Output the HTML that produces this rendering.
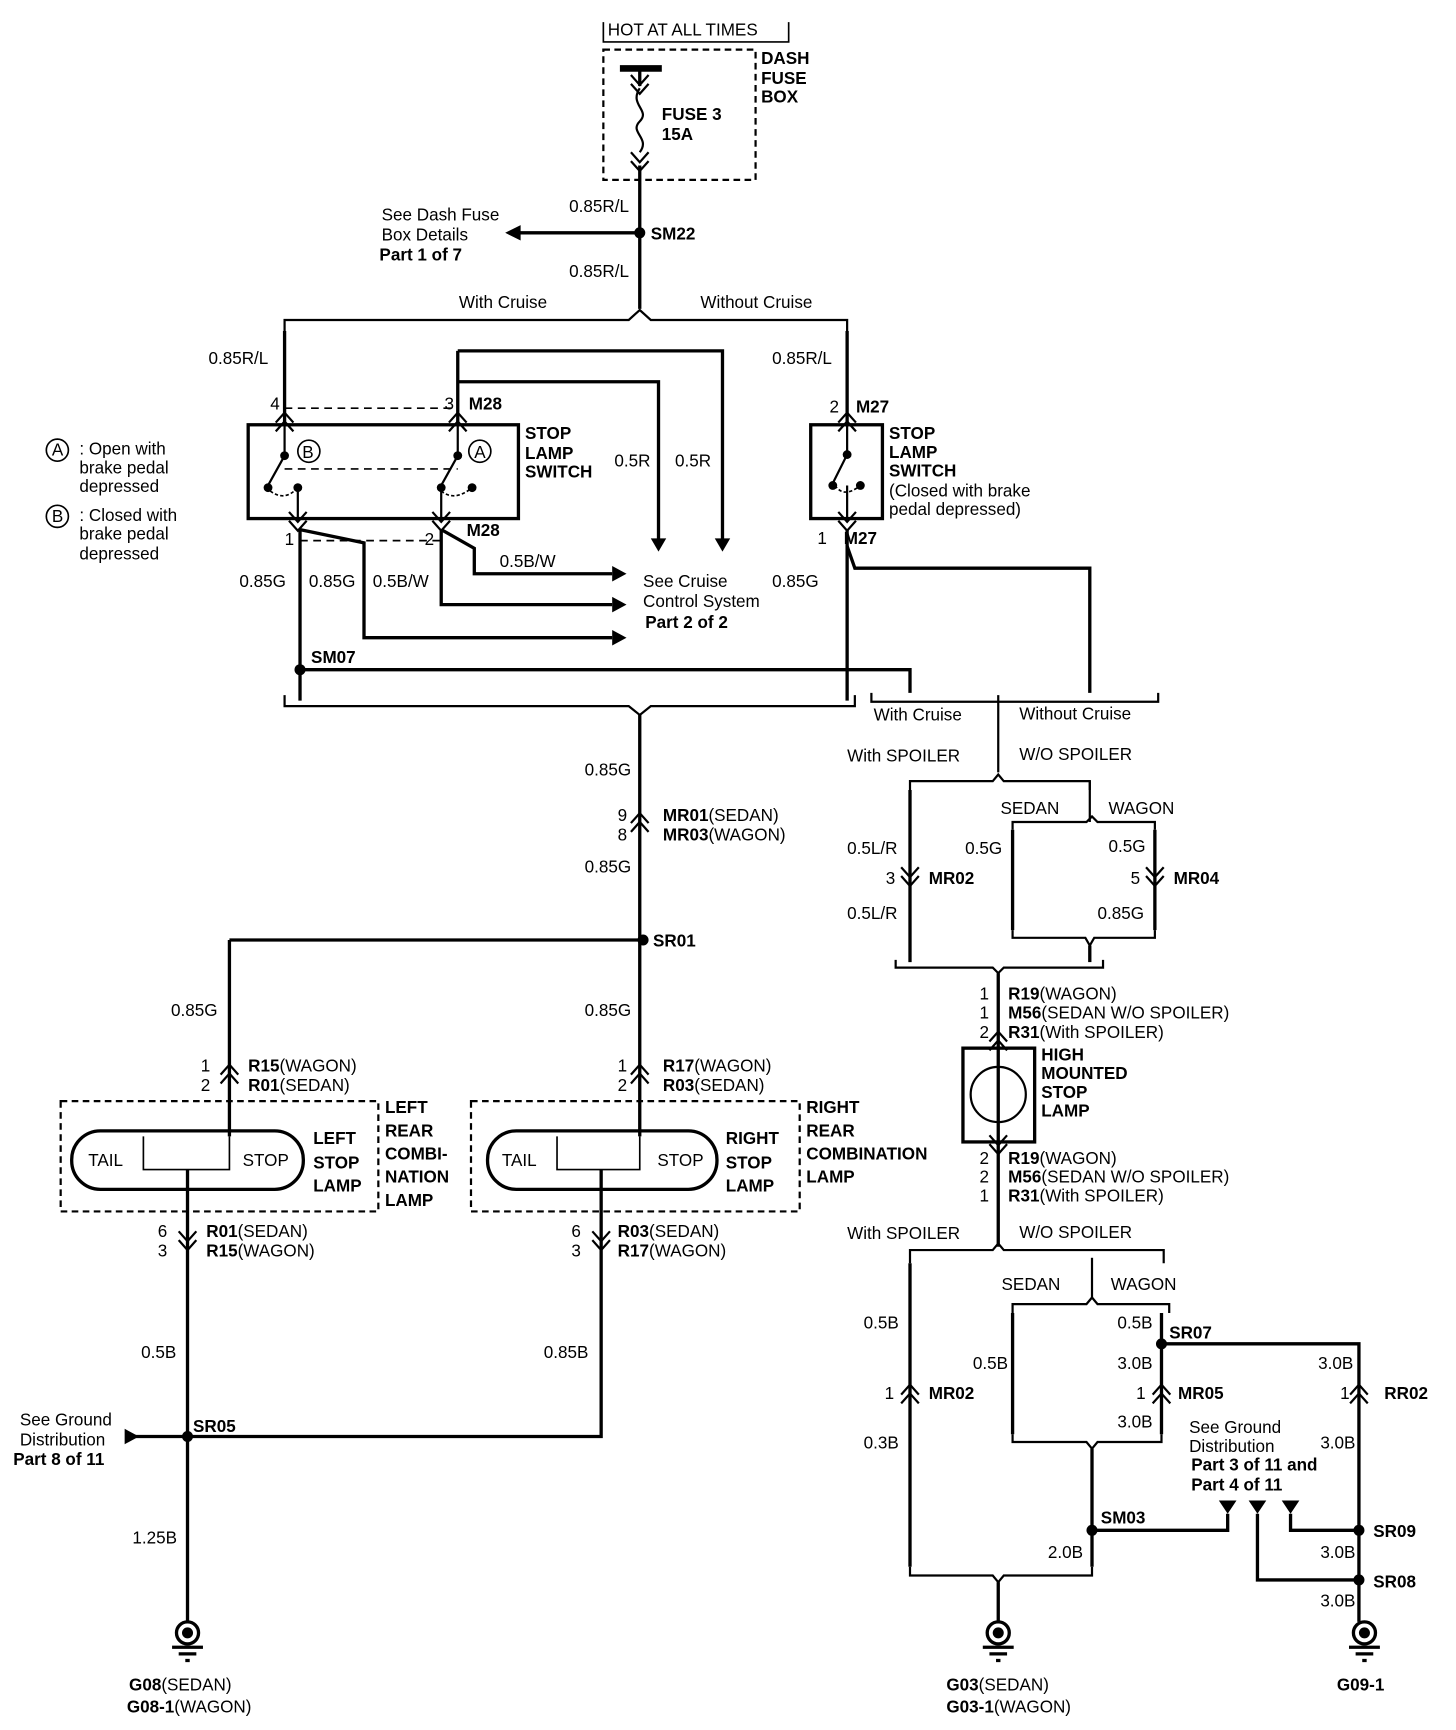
<!DOCTYPE html>
<html><head><meta charset="utf-8"><style>
html,body{margin:0;padding:0;background:#fff;}
svg{display:block;}
text{font-family:"Liberation Sans",sans-serif;font-size:15.5px;fill:#000;}
.b{font-weight:bold;}
</style></head><body>
<svg width="1456" height="1730" viewBox="0 0 1320 1568" preserveAspectRatio="none" xmlns="http://www.w3.org/2000/svg">
<defs>
<g id="cu"><path d="M-8,6 L0,-3 L8,6 M-8,14 L0,5 L8,14" fill="none" stroke="#000" stroke-width="2"/></g>
<g id="cd"><path d="M-8,-6 L0,3 L8,-6 M-8,-14 L0,-5 L8,-14" fill="none" stroke="#000" stroke-width="2"/></g>
<g id="gnd"><circle r="10" fill="none" stroke="#000" stroke-width="3"/><circle r="5" fill="#000"/><path d="M-14,13 H14 M-8,19 H8 M-2,25 H2" stroke="#000" stroke-width="3"/></g>
</defs>
<g fill="none" stroke="#000" stroke-width="3">
<path d="M547,20 V38 H715 V20" stroke-width="1.5"/>
<rect x="547" y="45" width="138" height="118" stroke-dasharray="6,4" stroke-width="2"/>
<path d="M562,62 H600" stroke-width="6"/>
<path d="M580,62 V78"/>
<path d="M580,80 C570,95 590,100 580,110 C570,120 590,125 580,138" stroke-width="2"/>
<path d="M580,150 V280"/>
<path d="M462,211 H580"/>
<path d="M258,300 V290 H570 L580,281 L590,290 H768 V300" stroke-width="2"/>
<path d="M258,300 V385"/>
<path d="M415,318 H655 V490"/>
<path d="M415,318 V385"/>
<path d="M415,346 H597 V490"/>
<path d="M768,300 V385"/>
<rect x="225" y="385" width="245" height="85"/>
<rect x="735" y="385" width="65" height="85"/>
<path d="M258,413 L243,440 M415,413 L400,440 M768,412 L755,438" stroke-width="2"/>
<path d="M258,385 V413 M415,385 V413 M768,385 V412 M270,440 V470 M400,440 V470 M768,440 V470" stroke-width="2"/>
<path d="M245,445 Q258,455 270,442 M400,445 Q412,455 428,442 M757,440 Q765,452 780,440" stroke-width="1.5" stroke-dasharray="3,2"/>
<path d="M258,370 H415 M258,425 H415 M272,490 H400" stroke-width="1.5" stroke-dasharray="7,5"/>
<path d="M272,480 V635"/>
<path d="M272,480 L330,492 V578 H555"/>
<path d="M400,480 V548 H555"/>
<path d="M400,480 L430,497 V520 H555"/>
<path d="M768,480 V635"/>
<path d="M768,495 L775,515 H988 V628"/>
<path d="M272,607 H825 V628"/>
<path d="M258,630 V640 H570 L580,648 L590,640 H775 V630" stroke-width="2"/>
<path d="M790,628 V636 H1050 V628 M905,630 V700" stroke-width="2"/>
<path d="M580,648 V1030"/>
<path d="M208,852 H583 M208,852 V1030"/>
<rect x="55" y="998" width="288" height="100" stroke-dasharray="6,4" stroke-width="2"/>
<rect x="427" y="998" width="298" height="100" stroke-dasharray="6,4" stroke-width="2"/>
<rect x="65" y="1025" width="210" height="53" rx="26"/>
<rect x="442" y="1025" width="208" height="53" rx="26"/>
<path d="M130,1030 V1060 H208 V1030 M505,1030 V1060 H580 V1030" stroke-width="1.5"/>
<path d="M170,1060 V1470"/>
<path d="M545,1060 V1302 H170"/>
<path d="M115,1302 H170"/>
<path d="M825,716 V708 H900 L905,702 L910,708 H988 V716" stroke-width="2"/>
<path d="M825,716 V872"/>
<path d="M918,752 V745 H985 L990,740 L995,745 H1047 V752" stroke-width="2"/>
<path d="M988,708 V745" stroke-width="2"/>
<path d="M918,752 V843 M1047,752 V843"/>
<path d="M918,843 V850 H984 L988,857 L992,850 H1047 V843" stroke-width="2"/>
<path d="M988,857 V872"/>
<path d="M812,870 V877 H900 L905,882 L910,877 H1000 V870" stroke-width="2"/>
<path d="M905,882 V1130"/>
<rect x="873" y="950" width="65" height="85"/>
<circle cx="905" cy="992" r="25" stroke-width="2"/>
<path d="M825,1145 V1133 H900 L905,1127 L910,1133 H1055 V1145" stroke-width="2"/>
<path d="M825,1145 V1420"/>
<path d="M918,1190 V1182 H985 L990,1176 L995,1182 H1060 V1190" stroke-width="2"/>
<path d="M990,1140 V1176" stroke-width="2"/>
<path d="M918,1190 V1300 M1053,1190 V1300"/>
<path d="M1053,1218 H1232 V1470"/>
<path d="M918,1300 V1307 H985 L990,1313 L995,1307 H1053 V1300" stroke-width="2"/>
<path d="M990,1313 V1420"/>
<path d="M990,1387 H1113 V1372"/>
<path d="M1140,1372 V1432 H1232"/>
<path d="M1170,1372 V1387 H1232"/>
<path d="M825,1420 V1428 H900 L905,1434 L910,1428 H990 V1420" stroke-width="2"/>
<path d="M905,1434 V1470"/>
</g>
<g fill="#000">
<path d="M458,211 L472,204 L472,218Z"/>
<path d="M590,488 L604,488 L597,500Z"/>
<path d="M648,488 L662,488 L655,500Z"/>
<path d="M555,513 L568,520 L555,527Z"/>
<path d="M555,541 L568,548 L555,555Z"/>
<path d="M555,571 L568,578 L555,585Z"/>
<path d="M113,1295 L126,1302 L113,1309Z"/>
<path d="M1105,1360 L1121,1360 L1113,1372Z"/>
<path d="M1132,1360 L1148,1360 L1140,1372Z"/>
<path d="M1162,1360 L1178,1360 L1170,1372Z"/>
<circle cx="580" cy="211" r="5"/><circle cx="272" cy="607" r="5"/><circle cx="583" cy="852" r="5"/>
<circle cx="170" cy="1302" r="5"/><circle cx="1053" cy="1218" r="5"/><circle cx="990" cy="1387" r="5"/>
<circle cx="1232" cy="1387" r="5"/><circle cx="1232" cy="1432" r="5"/>
<circle cx="258" cy="413" r="4"/><circle cx="415" cy="413" r="4"/><circle cx="243" cy="442" r="4"/><circle cx="270" cy="442" r="4"/><circle cx="400" cy="442" r="4"/><circle cx="428" cy="442" r="4"/><circle cx="768" cy="412" r="4"/><circle cx="755" cy="440" r="4"/><circle cx="780" cy="440" r="4"/>
</g>
<g fill="none" stroke="#000" stroke-width="1.5"><circle cx="280" cy="409" r="10"/><circle cx="435" cy="409" r="10"/><circle cx="52" cy="408" r="10"/><circle cx="52" cy="468" r="10"/></g>
<use href="#cd" x="580" y="82"/><use href="#cd" x="580" y="152"/>
<use href="#cu" x="258" y="377"/><use href="#cu" x="415" y="377"/><use href="#cu" x="768" y="377"/>
<use href="#cd" x="270" y="478"/><use href="#cd" x="400" y="478"/><use href="#cd" x="768" y="478"/>
<use href="#cu" x="580" y="740"/><use href="#cd" x="825" y="800"/><use href="#cd" x="1047" y="800"/>
<use href="#cu" x="208" y="968"/><use href="#cu" x="580" y="968"/>
<use href="#cu" x="905" y="938"/><use href="#cd" x="905" y="1043"/>
<use href="#cd" x="170" y="1130"/><use href="#cd" x="545" y="1130"/>
<use href="#cu" x="825" y="1258"/><use href="#cu" x="1053" y="1258"/><use href="#cu" x="1232" y="1258"/>
<use href="#gnd" x="170" y="1480"/><use href="#gnd" x="905" y="1480"/><use href="#gnd" x="1237" y="1480"/>
<text x="551" y="32">HOT AT ALL TIMES</text>
<text class="b" x="690" y="58">DASH</text><text class="b" x="690" y="76">FUSE</text><text class="b" x="690" y="93">BOX</text>
<text class="b" x="600" y="109">FUSE 3</text><text class="b" x="600" y="127">15A</text>
<text x="516" y="192">0.85R/L</text><text class="b" x="590" y="217">SM22</text>
<text x="346" y="200">See Dash Fuse</text><text x="346" y="218">Box Details</text><text class="b" x="344" y="236">Part 1 of 7</text>
<text x="516" y="251">0.85R/L</text>
<text x="416" y="279">With Cruise</text><text x="635" y="279">Without Cruise</text>
<text x="189" y="330">0.85R/L</text><text x="700" y="330">0.85R/L</text>
<text x="245" y="371">4</text><text x="403" y="371">3</text><text class="b" x="425" y="371">M28</text>
<text x="752" y="374">2</text><text class="b" x="776" y="374">M27</text>
<text class="b" x="476" y="398">STOP</text><text class="b" x="476" y="416">LAMP</text><text class="b" x="476" y="433">SWITCH</text>
<text class="b" x="806" y="398">STOP</text><text class="b" x="806" y="415">LAMP</text><text class="b" x="806" y="432">SWITCH</text>
<text x="806" y="450">(Closed with brake</text><text x="806" y="467">pedal depressed)</text>
<text x="274" y="415" font-size="13">B</text><text x="430" y="415" font-size="13">A</text>
<text x="47" y="413" font-size="13">A</text><text x="47" y="473" font-size="13">B</text>
<text x="72" y="412">: Open with</text><text x="72" y="429">brake pedal</text><text x="72" y="446">depressed</text>
<text x="72" y="472">: Closed with</text><text x="72" y="489">brake pedal</text><text x="72" y="507">depressed</text>
<text x="557" y="423">0.5R</text><text x="612" y="423">0.5R</text>
<text x="258" y="494">1</text><text x="385" y="494">2</text><text class="b" x="423" y="486">M28</text>
<text x="741" y="493">1</text><text class="b" x="765" y="493">M27</text>
<text x="453" y="514">0.5B/W</text>
<text x="217" y="532">0.85G</text><text x="280" y="532">0.85G</text><text x="338" y="532">0.5B/W</text><text x="700" y="532">0.85G</text>
<text x="583" y="532">See Cruise</text><text x="583" y="550">Control System</text><text class="b" x="585" y="569">Part 2 of 2</text>
<text class="b" x="282" y="601">SM07</text>
<text x="792" y="653">With Cruise</text><text x="924" y="652">Without Cruise</text>
<text x="768" y="690">With SPOILER</text><text x="924" y="689">W/O SPOILER</text>
<text x="530" y="703">0.85G</text>
<text x="560" y="744">9</text><text x="601" y="744"><tspan class="b">MR01</tspan>(SEDAN)</text>
<text x="560" y="762">8</text><text x="601" y="762"><tspan class="b">MR03</tspan>(WAGON)</text>
<text x="907" y="738">SEDAN</text><text x="1005" y="738">WAGON</text>
<text x="768" y="774">0.5L/R</text><text x="875" y="774">0.5G</text><text x="1005" y="772">0.5G</text>
<text x="803" y="801">3</text><text class="b" x="842" y="801">MR02</text>
<text x="1025" y="801">5</text><text class="b" x="1064" y="801">MR04</text>
<text x="530" y="791">0.85G</text>
<text x="768" y="833">0.5L/R</text><text x="995" y="833">0.85G</text>
<text class="b" x="592" y="858">SR01</text>
<text x="888" y="906">1</text><text x="914" y="906"><tspan class="b">R19</tspan>(WAGON)</text>
<text x="888" y="923">1</text><text x="914" y="923"><tspan class="b">M56</tspan>(SEDAN W/O SPOILER)</text>
<text x="888" y="941">2</text><text x="914" y="941"><tspan class="b">R31</tspan>(With SPOILER)</text>
<text x="155" y="921">0.85G</text><text x="530" y="921">0.85G</text>
<text class="b" x="944" y="961">HIGH</text><text class="b" x="944" y="978">MOUNTED</text><text class="b" x="944" y="995">STOP</text><text class="b" x="944" y="1012">LAMP</text>
<text x="182" y="971">1</text><text x="225" y="971"><tspan class="b">R15</tspan>(WAGON)</text>
<text x="182" y="989">2</text><text x="225" y="989"><tspan class="b">R01</tspan>(SEDAN)</text>
<text x="560" y="971">1</text><text x="601" y="971"><tspan class="b">R17</tspan>(WAGON)</text>
<text x="560" y="989">2</text><text x="601" y="989"><tspan class="b">R03</tspan>(SEDAN)</text>
<text class="b" x="349" y="1009">LEFT</text><text class="b" x="349" y="1030">REAR</text><text class="b" x="349" y="1051">COMBI-</text><text class="b" x="349" y="1072">NATION</text><text class="b" x="349" y="1093">LAMP</text>
<text class="b" x="731" y="1009">RIGHT</text><text class="b" x="731" y="1030">REAR</text><text class="b" x="731" y="1051">COMBINATION</text><text class="b" x="731" y="1072">LAMP</text>
<text class="b" x="284" y="1037">LEFT</text><text class="b" x="284" y="1059">STOP</text><text class="b" x="284" y="1080">LAMP</text>
<text class="b" x="658" y="1037">RIGHT</text><text class="b" x="658" y="1059">STOP</text><text class="b" x="658" y="1080">LAMP</text>
<text x="80" y="1057" font-size="16">TAIL</text><text x="220" y="1057" font-size="16">STOP</text>
<text x="455" y="1057" font-size="16">TAIL</text><text x="596" y="1057" font-size="16">STOP</text>
<text x="888" y="1055">2</text><text x="914" y="1055"><tspan class="b">R19</tspan>(WAGON)</text>
<text x="888" y="1072">2</text><text x="914" y="1072"><tspan class="b">M56</tspan>(SEDAN W/O SPOILER)</text>
<text x="888" y="1089">1</text><text x="914" y="1089"><tspan class="b">R31</tspan>(With SPOILER)</text>
<text x="143" y="1121">6</text><text x="187" y="1121"><tspan class="b">R01</tspan>(SEDAN)</text>
<text x="143" y="1139">3</text><text x="187" y="1139"><tspan class="b">R15</tspan>(WAGON)</text>
<text x="518" y="1121">6</text><text x="560" y="1121"><tspan class="b">R03</tspan>(SEDAN)</text>
<text x="518" y="1139">3</text><text x="560" y="1139"><tspan class="b">R17</tspan>(WAGON)</text>
<text x="768" y="1123">With SPOILER</text><text x="924" y="1122">W/O SPOILER</text>
<text x="908" y="1169">SEDAN</text><text x="1007" y="1169">WAGON</text>
<text x="783" y="1204">0.5B</text><text x="1013" y="1204">0.5B</text><text class="b" x="1060" y="1213">SR07</text>
<text x="128" y="1231">0.5B</text><text x="493" y="1231">0.85B</text>
<text x="882" y="1241">0.5B</text><text x="1013" y="1241">3.0B</text><text x="1195" y="1241">3.0B</text>
<text x="802" y="1268">1</text><text class="b" x="842" y="1268">MR02</text>
<text x="1030" y="1268">1</text><text class="b" x="1068" y="1268">MR05</text>
<text x="1215" y="1268">1</text><text class="b" x="1255" y="1268">RR02</text>
<text x="1013" y="1294">3.0B</text>
<text x="18" y="1292">See Ground</text><text x="18" y="1310">Distribution</text><text class="b" x="12" y="1328">Part 8 of 11</text>
<text class="b" x="175" y="1298">SR05</text>
<text x="1078" y="1299">See Ground</text><text x="1078" y="1316">Distribution</text><text class="b" x="1080" y="1333">Part 3 of 11 and</text><text class="b" x="1080" y="1351">Part 4 of 11</text>
<text x="783" y="1313">0.3B</text><text x="1197" y="1313">3.0B</text>
<text class="b" x="998" y="1381">SM03</text><text class="b" x="1245" y="1393">SR09</text>
<text x="120" y="1399">1.25B</text>
<text x="950" y="1412">2.0B</text><text x="1197" y="1412">3.0B</text>
<text class="b" x="1245" y="1439">SR08</text><text x="1197" y="1456">3.0B</text>
<text x="117" y="1532"><tspan class="b">G08</tspan>(SEDAN)</text><text x="115" y="1552"><tspan class="b">G08-1</tspan>(WAGON)</text>
<text x="858" y="1532"><tspan class="b">G03</tspan>(SEDAN)</text><text x="858" y="1552"><tspan class="b">G03-1</tspan>(WAGON)</text>
<text class="b" x="1212" y="1532">G09-1</text>
</svg>
</body></html>
